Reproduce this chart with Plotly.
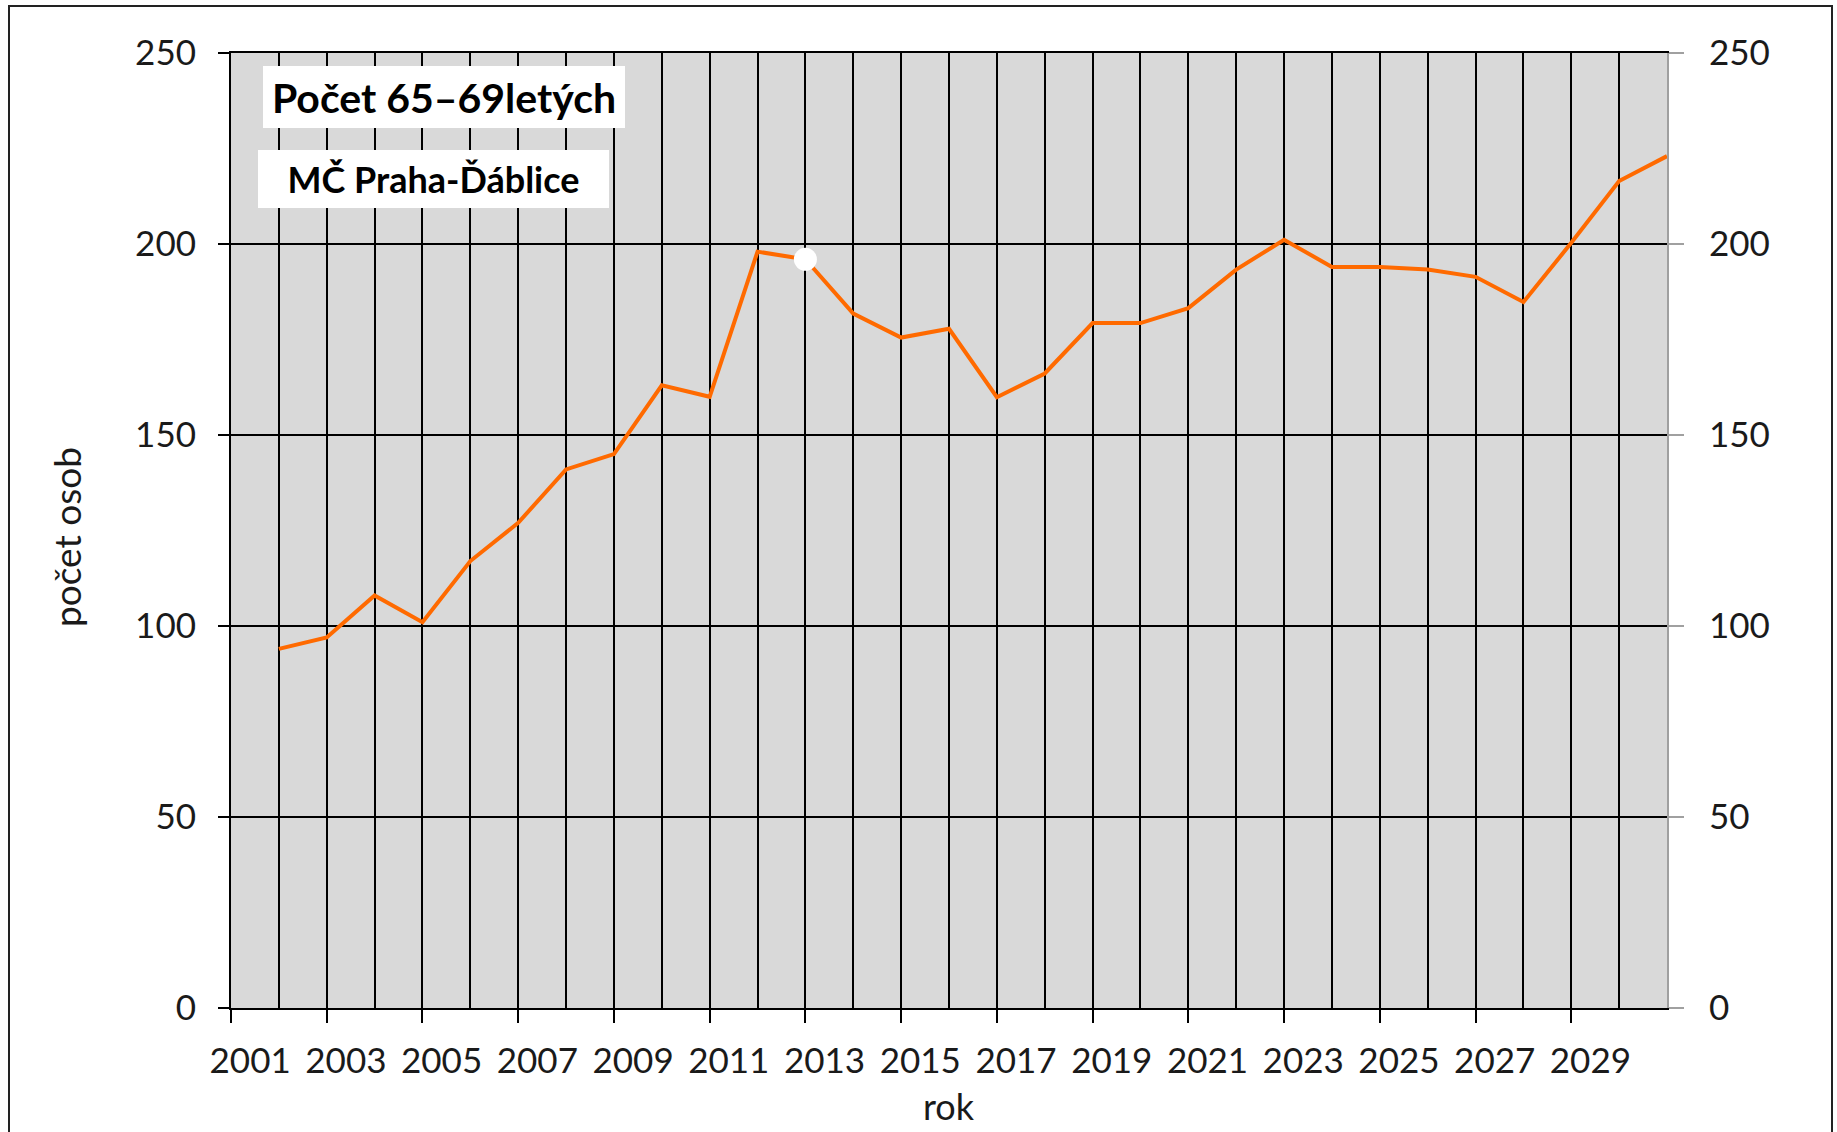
import plotly.graph_objects as go

# ---- data ----
years = list(range(2001, 2031))
persons_65_69 = [94, 97, 108, 101, 117, 127, 141, 145, 163, 160, 198, 196,
                 181.8, 175.5, 177.8, 159.9, 166.1, 179.3, 179.3, 183.2,
                 193.3, 201.1, 194.0, 194.0, 193.3, 191.4, 184.8, 200.3,
                 216.5, 223.0]
highlight_year = 2012
label_years = list(range(2001, 2030, 2))
tick_years = list(range(2000, 2030, 2))
y_ticks = [0, 50, 100, 150, 200, 250]

title_text = "Počet 65–69letých"
subtitle_text = "MČ Praha-Ďáblice"
x_title = "rok"
y_title = "počet osob"

W, H = 1837, 1132
L, R, T, B = 231, 170, 53, 124
pw, ph = W - L - R, H - T - B

FONT = "Lato"
TXT = "#1a1a1a"
TICK_SIZE = 35

fig = go.Figure()
fig.add_trace(go.Scatter(
    x=years, y=persons_65_69, mode="lines",
    line=dict(color="#FF6A00", width=4), hoverinfo="x+y", showlegend=False))
hi = years.index(highlight_year)
fig.add_trace(go.Scatter(
    x=[years[hi]], y=[persons_65_69[hi]], mode="markers",
    marker=dict(color="white", size=23, line=dict(width=0)), showlegend=False))


def px2paper_x(px):
    return (px - L) / pw


def px2paper_y(py):
    return (H - B - py) / ph


fig.update_layout(
    width=W, height=H,
    margin=dict(l=L, r=R, t=T, b=B, pad=0),
    paper_bgcolor="white", plot_bgcolor="#D9D9D9",
    font=dict(family=FONT, size=TICK_SIZE, color=TXT),
    xaxis=dict(
        range=[2000, 2030], tickmode="array",
        tickvals=[y - 0.6 for y in label_years],
        ticktext=[str(y) for y in label_years],
        ticks="", showgrid=False, zeroline=False,
        showline=True, linecolor="black", linewidth=2, mirror=True,
        tickfont=dict(family=FONT, size=TICK_SIZE, color=TXT),
        ticklabelstandoff=21,
        minor=dict(tickmode="linear", tick0=2000, dtick=1, showgrid=True,
                   gridcolor="black", gridwidth=2, ticks=""),
    ),
    xaxis2=dict(
        range=[2000, 2030], overlaying="x", anchor="y", side="bottom",
        tickmode="array", tickvals=tick_years, ticks="outside", ticklen=14,
        tickwidth=2, tickcolor="black", showticklabels=False,
        showgrid=False, zeroline=False, showline=False,
    ),
    yaxis=dict(
        range=[0, 250], tickmode="array", tickvals=y_ticks,
        ticks="outside", ticklen=11, tickwidth=2, tickcolor="black",
        showgrid=True, gridcolor="black", gridwidth=2,
        zeroline=True, zerolinecolor="black", zerolinewidth=2,
        showline=True, linecolor="black", linewidth=2,
        tickfont=dict(family=FONT, size=TICK_SIZE, color=TXT),
        ticklabelstandoff=15,
    ),
    yaxis2=dict(
        range=[0, 250], overlaying="y", side="right", anchor="x",
        tickmode="array", tickvals=y_ticks,
        ticks="outside", ticklen=15, tickwidth=2, tickcolor="#A0A0A0",
        showgrid=False, zeroline=False,
        showline=True, linecolor="#A0A0A0", linewidth=2,
        tickfont=dict(family=FONT, size=TICK_SIZE, color=TXT),
        ticklabelstandoff=18,
    ),
)

# invisible trace to activate right axis / xaxis2
fig.add_trace(go.Scatter(x=[years[0]], y=[persons_65_69[0]], xaxis="x2", yaxis="y2",
                         mode="markers", marker=dict(opacity=0), hoverinfo="skip",
                         showlegend=False))

# axis titles
fig.add_annotation(
    xref="paper", yref="paper", x=px2paper_x(949), y=px2paper_y(1106),
    xanchor="center", yanchor="middle", text=x_title, showarrow=False,
    font=dict(family=FONT, size=36, color=TXT))
fig.add_annotation(
    xref="paper", yref="paper", x=px2paper_x(66), y=px2paper_y(537),
    xanchor="center", yanchor="middle", text=y_title, showarrow=False,
    textangle=-90, font=dict(family=FONT, size=37, color=TXT))

# title boxes
fig.add_annotation(
    xref="paper", yref="paper", x=px2paper_x(444), y=px2paper_y(97),
    xanchor="center", yanchor="middle", text=title_text, showarrow=False,
    font=dict(family=FONT, size=41, color="black", weight="bold"),
    bgcolor="white", width=362, height=62, borderpad=0, borderwidth=0)
fig.add_annotation(
    xref="paper", yref="paper", x=px2paper_x(433.5), y=px2paper_y(179),
    xanchor="center", yanchor="middle", text=subtitle_text, showarrow=False,
    font=dict(family=FONT, size=36, color="black", weight="bold"),
    bgcolor="white", width=351, height=58, borderpad=0, borderwidth=0)

# outer frame (bottom edge is outside the visible picture)
fig.add_shape(type="rect", xref="paper", yref="paper",
              x0=px2paper_x(9), x1=px2paper_x(1832),
              y0=px2paper_y(1150), y1=px2paper_y(6),
              line=dict(color="#222222", width=2), layer="above")

fig.write_html("out.html", config={"displayModeBar": False},
               post_script="document.body.style.margin='0';document.body.style.overflow='hidden';")
